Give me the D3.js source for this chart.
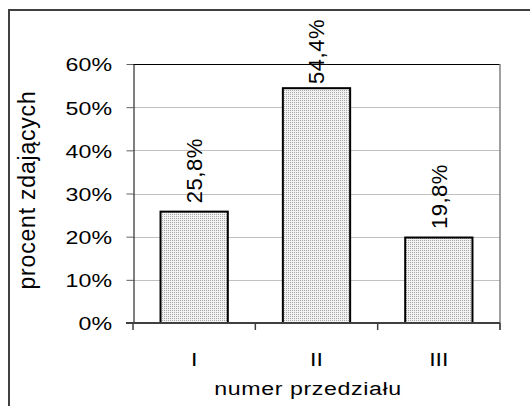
<!DOCTYPE html>
<html>
<head>
<meta charset="utf-8">
<script src="https://cdn.jsdelivr.net/npm/d3@7"></script>
<style>
    body { margin: 0; background: #ffffff; }
    svg text { font-family: "Liberation Sans", Arial, sans-serif; fill: #000000; }
</style>
</head>
<body>
<div id="chart"></div>
<script>
'use strict';

// dane wykresu
const categories = ['I', 'II', 'III'];
const values = [0.258, 0.544, 0.198];
const yTicks = [0, 0.1, 0.2, 0.3, 0.4, 0.5, 0.6];
const yTickLabels = ['0%', '10%', '20%', '30%', '40%', '50%', '60%'];
const xTitle = 'numer przedziału';
const yTitle = 'procent zdających';

const params = {
    id: '#chart',
    width: 530,
    height: 406,
    left: 133,
    right: 500,
    top: 64,
    bottom: 323,
    fontSize: 19,
    rotFontSize: 22,
    stretch: 1.22,      // poziomy tekst jest rozciągnięty
    barRatio: 0.55
};

// polski zapis liczb: przecinek dziesiętny
const pl = d3.formatLocale({decimal: ',', thousands: ' ', grouping: [3], currency: ['', ' zł']});
const formatValue = pl.format('.1%');

const svg = d3.select(params.id).append('svg')
    .attr('width', params.width)
    .attr('height', params.height);

// wypełnienie słupków - drobny raster
const pattern = svg.append('defs').append('pattern')
    .attr('id', 'dots')
    .attr('width', 2)
    .attr('height', 2)
    .attr('patternUnits', 'userSpaceOnUse');
pattern.append('rect').attr('width', 2).attr('height', 2).attr('fill', '#f2f2f2');
pattern.append('rect').attr('width', 1).attr('height', 1).attr('fill', '#a8a8a8');

// ramka całego wykresu (wychodzi poza obraz z prawej i od dołu)
svg.append('rect')
    .attr('x', 9)
    .attr('y', 10)
    .attr('width', 600)
    .attr('height', 500)
    .attr('fill', 'none')
    .attr('stroke', '#404040')
    .attr('stroke-width', 2);

const y = d3.scaleLinear()
    .domain([0, 0.6])
    .range([params.bottom, params.top]);

const x = d3.scaleBand()
    .domain(categories)
    .range([params.left, params.right]);

// linie siatki
svg.append('g').selectAll('line')
    .data(yTicks.slice(1, -1))
    .join('line')
    .attr('x1', params.left)
    .attr('x2', params.right)
    .attr('y1', d => Math.round(y(d)) + 0.5)
    .attr('y2', d => Math.round(y(d)) + 0.5)
    .attr('stroke', '#c0c0c0');

// górna i prawa krawędź obszaru kreślenia
svg.append('line')
    .attr('x1', params.left).attr('x2', params.right)
    .attr('y1', y(0.6) + 0.5).attr('y2', y(0.6) + 0.5)
    .attr('stroke', '#000000');
svg.append('line')
    .attr('x1', params.right).attr('x2', params.right)
    .attr('y1', y(0.6)).attr('y2', params.bottom + 7)
    .attr('stroke', '#808080')
    .attr('stroke-width', 1.5);

// słupki
const bw = x.bandwidth() * params.barRatio;
svg.append('g').selectAll('rect')
    .data(values)
    .join('rect')
    .attr('x', (d, i) => x(categories[i]) + (x.bandwidth() - bw) / 2)
    .attr('width', bw)
    .attr('y', d => y(d))
    .attr('height', d => y(0) - y(d))
    .attr('fill', 'url(#dots)')
    .attr('stroke', '#000000')
    .attr('stroke-width', 2);

// oś Y
const yAxis = svg.append('g')
    .attr('transform', `translate(${params.left + 0.5},0)`)
    .call(d3.axisLeft(y)
        .tickValues(yTicks)
        .tickFormat((d, i) => yTickLabels[i])
        .tickSize(7)
        .tickSizeOuter(0));
yAxis.select('.domain').attr('stroke', '#000000');
yAxis.selectAll('.tick line').attr('stroke', '#606060');
yAxis.selectAll('.tick text')
    .attr('x', 0)
    .attr('dy', '0.36em')
    .attr('transform', `translate(-21.5,0) scale(${params.stretch},1)`)
    .style('font-size', params.fontSize + 'px');

// oś X - znaczniki na granicach kategorii
const xEdges = categories.map(c => x(c)).concat([params.right]);
svg.append('line')
    .attr('x1', params.left - 7).attr('x2', params.right)
    .attr('y1', params.bottom).attr('y2', params.bottom)
    .attr('stroke', '#404040')
    .attr('stroke-width', 2);
svg.append('g').selectAll('line')
    .data(xEdges)
    .join('line')
    .attr('x1', d => d).attr('x2', d => d)
    .attr('y1', params.bottom).attr('y2', params.bottom + 7)
    .attr('stroke', '#404040')
    .attr('stroke-width', 1.5);

svg.append('g').selectAll('text')
    .data(categories)
    .join('text')
    .attr('text-anchor', 'middle')
    .attr('transform', d => `translate(${x(d) + x.bandwidth() / 2},${params.bottom + 43}) scale(${params.stretch},1)`)
    .style('font-size', params.fontSize + 'px')
    .text(d => d);

// etykiety wartości nad słupkami (obrócone)
const capHalf = 0.716 * params.rotFontSize / 2;
svg.append('g').selectAll('text')
    .data(values)
    .join('text')
    .attr('text-anchor', 'start')
    .style('font-size', params.rotFontSize + 'px')
    .style('letter-spacing', '0.5px')
    .text(d => formatValue(d))
    .attr('transform', function(d, i) {
        let len = this.getComputedTextLength();
        let sy = y(d) - 8.5;
        // etykieta nie może wyjść ponad ramkę
        if (sy - len < 19) sy = 19 + len;
        let cx = x(categories[i]) + x.bandwidth() / 2 + capHalf;
        return `translate(${cx},${sy}) rotate(-90)`;
    });

// tytuły osi
svg.append('text')
    .attr('text-anchor', 'middle')
    .attr('transform', `translate(308,395) scale(${params.stretch},1)`)
    .style('font-size', params.fontSize + 'px')
    .style('letter-spacing', '0.5px')
    .text(xTitle);

svg.append('text')
    .attr('text-anchor', 'middle')
    .attr('transform', 'translate(35,190) rotate(-90)')
    .style('font-size', '23px')
    .style('letter-spacing', '0.8px')
    .text(yTitle);
</script>
</body>
</html>
